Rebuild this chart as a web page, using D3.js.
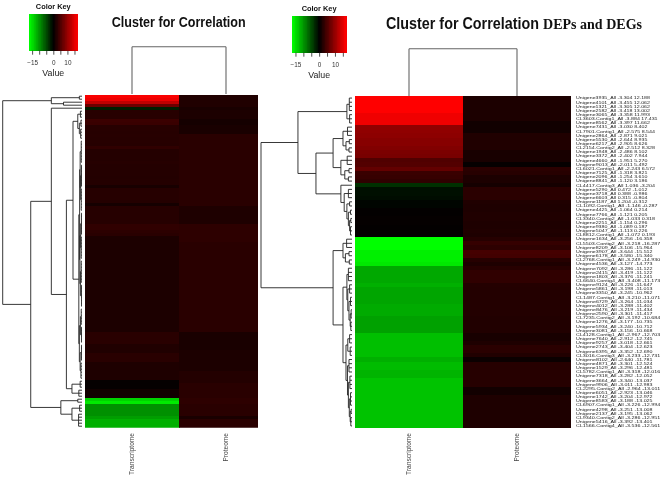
<!DOCTYPE html>
<html>
<head>
<meta charset="utf-8">
<title>Cluster for Correlation</title>
<script src="https://cdn.jsdelivr.net/npm/d3@7"></script>
<style>
  html, body { margin: 0; padding: 0; background: #fff; }
  svg { display: block; filter: blur(0.45px); }
  text { font-family: "Liberation Sans", Arial, sans-serif; }
</style>
</head>
<body>
<svg id="chart" width="660" height="478"></svg>
<script>
const columns = ["Transcriptome", "Proteome"]
const keyTicks = [-15, -10, -5, 0, 5, 10, 15]
const keyLabels = [-15, 0, 10]

// left heatmap, all genes, read top to bottom in bands
const leftTranscriptome = [
  16.6, 15.8, 12.8, 7.2, -2, 2.6, 2.6, 2.6, 3.9, 3.8,
  2.6, 2.6, 2.5, 2.6, 2.5, 2.6, 2.5, 3.2, 2.4, 2.4,
  2.4, 2.4, 2.5, 2.4, 2.4, 2.4, 2.4, 2.3, 2.4, 2.4,
  1.6, 2.5, 2.5, 2.5, 2.5, 2.4, 1.4, 2.5, 2.5, 2.5,
  2.5, 2.5, 2.5, 3.2, 3.2, 2.9, 2.7, 1.9, 1.9, 1.9,
  1.9, 1.9, 1.9, 1.9, 1.9, 1.9, 1.9, 1.9, 1.9, 1.9,
  1.9, 1.9, 1.9, 1.9, 1.9, 1.9, 1.9, 1.9, 1.9, 1.9,
  1.9, 1.9, 1.9, 1.9, 1.9, 1.9, 1.9, 1.9, 1.9, 2.7,
  2.7, 2.7, 2.7, 2.1, 2.1, 2.1, 2.7, 2.7, 2.7, 2,
  2, 2, 2, 2, 2, 0.3, 0.3, 0.3, 1.2, 1.2,
  1.2, -14, -15.6, -9.6, -9.6, -9.6, -9.6, -10.5, -11.7, -11.7,
  -11.7
]
const leftProteome = [
  2.1, 2.1, 2.1, 2.1, 1.7, 1.9, 1.9, 1.9, 1.4, 1.4,
  1.7, 1.7, 1.7, 2.7, 2.7, 2.7, 2.7, 2.7, 2.7, 2.7,
  2.7, 2.7, 2.7, 2.7, 2.7, 2.7, 2.7, 2.7, 2.7, 2.7,
  2.7, 2.7, 2.7, 2.7, 2.7, 2.7, 2.7, 2, 2, 2,
  2, 2, 2, 3, 3, 3, 3, 3, 3, 2.7,
  2.7, 2.7, 2.7, 2.7, 2.7, 2.7, 2.7, 2.7, 2.7, 2.7,
  2.7, 2.7, 2.7, 2.7, 2.7, 2.7, 2.7, 2.7, 2.7, 2.7,
  2.7, 2.7, 2.7, 2.7, 2.7, 2.7, 2.7, 2.7, 2.7, 1.7,
  1.7, 1.7, 1.7, 1.7, 1.7, 1.9, 1.9, 1.9, 1.9, 1.9,
  1.9, 1.9, 2.3, 2.3, 2.3, 2.3, 2.7, 2.7, 2.7, 2.7,
  2.7, 3, 3, 2.7, 2.7, 2.7, 2.7, 1.7, 2.7, 2.7,
  2.7
]

// right heatmap, DEPs and DEGs
const rightTranscriptome = [
  17, 17, 17, 17, 16, 16, 16, 9.6, 9.6, 9.4,
  9, 9, 8.6, 8.2, 8, 5.3, 5.5, 6.6, 3.8, 3.6,
  3.2, -3.2, -1, -1, -0.8, -0.3, -0.3, 0.2, 0.2, 0.3,
  0.3, 0.2, 0.2, 0.2, -17, -17, -17, -16, -16, -16,
  -15.5, -11.2, -11.2, -11.2, -11.2, -11.7, -11, -11, -11, -11,
  -11.4, -11.4, -11.4, -10.7, -10.7, -10.7, -10.7, -12.7, -12.7, -12.7,
  -12.7, -12.7, -12.7, -11.7, -12.5, -12.5, -12, -12, -13, -13,
  -13, -13, -13, -13, -13, -13, -13, -13, -13, -13
]
const rightProteome = [
  1.9, 1.9, 1.9, 1.9, 1.9, 1.9, 1.1, 1.1, 1.1, 2.1,
  2.1, 2.1, 2.1, 1.6, 1.6, 1.6, 0.3, 2.8, 2.6, 1.9,
  1.9, 1.4, 2.8, 2.8, 2.8, 2.1, 2, 2, 2.1, 2.1,
  2, 2, 2.1, 2, 2.5, 3.5, 3, 4.6, 4.4, 2.5,
  2, 2.6, 3.2, 3.2, 3.2, 2.4, 2.3, 2.3, 2.3, 2.3,
  2.3, 2.3, 2.3, 2.2, 2.2, 2.2, 2.2, 1.6, 1.6, 2,
  2.8, 2.8, 2.2, 0.7, 2.5, 2.5, 2.5, 2.5, 2.5, 2.5,
  1.2, 1.2, 2, 2, 2, 2, 2, 2, 2, 2
]

const rowLabels = [
  "Unigene3935_All -3.304 12.188", "Unigene4101_All -3.455 12.062", "Unigene1321_All -3.305 12.062", "Unigene2582_All -3.418 13.002",
  "Unigene3065_All -3.358 11.993", "CL3603.Contig1_All -3.884 17.431", "Unigene8562_All -3.397 11.662", "Unigene7431_All -3.030 8.402",
  "CL7901.Contig1_All -2.575 8.544", "Unigene2864_All -2.871 9.021", "Unigene5530_All -2.644 8.935", "Unigene6217_All -2.905 8.626",
  "CL2154.Contig2_All -2.512 8.328", "Unigene1948_All -2.486 8.102", "Unigene3372_All -2.402 7.944", "Unigene4660_All -1.951 5.270",
  "Unigene9013_All -2.011 5.492", "CL6021.Contig1_All -2.243 6.572", "Unigene7125_All -1.318 3.821", "Unigene2096_All -1.254 3.610",
  "Unigene8841_All -1.120 3.186", "CL4417.Contig3_All 1.036 -3.204", "Unigene5290_All 0.472 -1.012", "Unigene3718_All 0.388 -0.986",
  "Unigene6603_All 0.315 -0.804", "Unigene1187_All 1.204 -0.312", "CL1092.Contig1_All -1.146 -0.287", "Unigene4425_All -1.064 0.214",
  "Unigene7766_All -1.121 0.205", "CL3340.Contig2_All -1.033 0.318", "Unigene2251_All -1.154 0.296", "Unigene9380_All -1.089 0.187",
  "Unigene5047_All -1.113 0.226", "CL8812.Contig1_All -1.072 0.193", "Unigene1634_All -3.256 -16.358", "CL5503.Contig2_All -3.218 -16.287",
  "Unigene8209_All -3.106 -15.964", "Unigene3907_All -3.644 -15.512", "Unigene6178_All -3.580 -15.340", "CL2768.Contig1_All -3.249 -14.930",
  "Unigene4536_All -3.127 -14.773", "Unigene7092_All -3.286 -11.122", "Unigene2415_All -3.419 -11.122", "Unigene1803_All -3.376 -11.241",
  "CL6640.Contig4_All -3.408 -11.173", "Unigene9124_All -3.226 -11.647", "Unigene5861_All -3.198 -11.013", "Unigene3350_All -3.245 -10.962",
  "CL1487.Contig1_All -3.210 -11.071", "Unigene6729_All -3.264 -11.034", "Unigene4012_All -3.288 -11.402", "Unigene8476_All -3.219 -11.434",
  "Unigene2590_All -3.301 -11.417", "CL7235.Contig2_All -3.192 -10.684", "Unigene1276_All -3.177 -10.735", "Unigene5934_All -3.240 -10.712",
  "Unigene3081_All -3.156 -10.668", "CL4128.Contig1_All -2.967 -12.703", "Unigene7640_All -2.912 -12.745", "Unigene9257_All -3.018 -12.661",
  "Unigene2743_All -3.404 -12.623", "Unigene6395_All -3.352 -12.690", "CL3016.Contig3_All -3.233 -12.731", "Unigene8102_All -2.640 -11.781",
  "Unigene4871_All -3.301 -12.524", "Unigene1529_All -3.296 -12.481", "CL5782.Contig1_All -3.318 -12.016", "Unigene7318_All -3.282 -12.052",
  "Unigene3664_All -3.340 -13.037", "Unigene9906_All -3.011 -12.983", "CL2295.Contig2_All -2.964 -13.011", "Unigene6051_All -2.923 -13.046",
  "Unigene1742_All -3.204 -12.972", "Unigene8583_All -3.188 -13.025", "CL6907.Contig1_All -3.226 -12.994", "Unigene4298_All -3.251 -13.008",
  "Unigene2137_All -3.195 -13.062", "CL9340.Contig2_All -3.286 -12.951", "Unigene5416_All -3.392 -13.401", "CL1566.Contig4_All -3.536 -12.561"
]

// dendrograms: [height, child, child, ...], a 0 is one row
const leftTree = [30,
  [11.6, [1, 0, 0], [7, 0, 0]],
  [19.4,
    [11.6, 0,
      [5.9,
        [3.4,
          [1.6, [0.6, 0, 0, 0], [1, [0.4, 0, 0, 0], [0.5, 0, 0, 0, 0]]],
          [1.2,
            [0.9,
              [0.7, [0.3, 0, 0, 0, 0, 0, 0, 0, 0], [0.5, [0.2, 0, 0, 0, 0, 0, 0, 0, 0], [0.3, 0, 0, 0, 0, 0, 0, 0, 0]]],
              [0.8,
                [0.5, [0.2, 0, 0, 0, 0, 0, 0, 0, 0], [0.3, 0, 0, 0, 0, 0, 0, 0, 0]],
                [0.6, [0.3, 0, 0, 0, 0, 0, 0, 0, 0], [0.2, 0, 0, 0, 0, 0, 0, 0, 0]]]],
            [1,
              [0.6, [0.3, 0, 0, 0, 0, 0, 0], [0.2, 0, 0, 0, 0, 0, 0]],
              [0.7, [0.2, 0, 0, 0, 0, 0, 0], [0.4, 0, 0, 0, 0, 0, 0]]]]],
        [3.8, [0.7, 0, 0, 0], [1.2, 0, 0, 0]]]],
    [8, [1.6, 0, 0], [3.8, [0.9, 0, 0, 0], [1.3, 0, 0, 0, 0, 0]]]]
]
const rightTree = [30.3,
  [18,
    [1.7, [0.9, 0, 0, 0, 0], [0.8, 0, 0, 0]],
    [12,
      [6.3,
        [3, [1.5, 0, 0, 0], [2, [0.9, 0, 0], [1, 0, 0]]],
        [3.7, [1.6, 0, 0, 0], [2.4, [1, 0, 0], [1.2, 0, 0]]]],
      [3.7, 0,
        [2.6, [1.2, 0, 0, 0], [1.7, [0.8, 0, 0], [1.2, [0.5, 0, 0], [0.8, [0.4, 0, 0], [0.5, 0, 0, 0]]]]]]]],
  [6.3,
    [3, [1.8, 0, 0, 0], [2.2, [1, 0, 0], [0.9, 0, 0]]],
    [3,
      [1.7, [1.2, 0, 0, 0, 0], [1.4, [0.8, 0, 0, 0], [1, [0.5, 0, 0, 0], [0.6, [0.3, 0, 0, 0], [0.4, 0, 0, 0]]]]],
      [2,
        [1.4, [0.8, 0, 0, 0], [0.6, 0, 0, 0]],
        [1.5, [1, 0, 0, 0, 0], [1.2, [0.7, 0, 0, 0, 0], [0.9, [0.5, 0, 0, 0, 0], [0.6, [0.3, 0, 0], [0.4, 0, 0, 0]]]]]]]]
]
const columnTree = [1, 0, 0]

const svg = d3.select("#chart")
const color = d3.scaleLinear()
  .domain([-17, 0, 17])
  .range(["#00ff00", "#000000", "#ff0000"])
  .clamp(true)

// draws a dendrogram, leafPos gives a row or column centre, heightPos a node height
function drawTree(tree, leafPos, heightPos, horizontal, stroke, width) {
  const root = d3.hierarchy(tree, (d) => (Array.isArray(d) ? d.slice(1) : null))
  let n = 0
  root.eachAfter((d) => {
    if (!d.children) {
      d.p = leafPos(n++)
    } else {
      d.p = (d.children[0].p + d.children[d.children.length - 1].p) / 2
    }
    d.h = d.children ? d.data[0] : 0
  })
  const xy = horizontal
    ? (h, p) => [heightPos(h), p]
    : (h, p) => [p, heightPos(h)]

  const line = d3.line()
  svg.append("g")
    .attr("fill", "none")
    .attr("stroke", stroke)
    .attr("stroke-width", width)
    .selectAll("path")
    .data(root.descendants().filter((d) => d.children))
    .enter()
    .append("path")
    .attr("d", (d) => {
      const first = d.children[0]
      const last = d.children[d.children.length - 1]
      return d.children
        .map((c) => line([xy(c.h, c.p), xy(d.h, c.p)]))
        .join("") + line([xy(d.h, first.p), xy(d.h, last.p)])
    })
}

function drawHeatmap(id, transcriptome, proteome, x, y, clipRight) {
  const rows = d3.range(transcriptome.length)
  const values = [transcriptome, proteome]
  svg.append("clipPath")
    .attr("id", id)
    .append("rect")
    .attr("x", x.range()[0])
    .attr("y", y.range()[0])
    .attr("width", clipRight - x.range()[0])
    .attr("height", y.range()[1] - y.range()[0])

  const g = svg.append("g")
    .attr("clip-path", `url(#${id})`)
    .attr("shape-rendering", "crispEdges")
  columns.forEach((col, c) => {
    g.selectAll(null)
      .data(rows)
      .enter()
      .append("rect")
      .attr("x", x(col))
      .attr("y", (i) => y(i))
      .attr("width", x.bandwidth() + 0.5)
      .attr("height", y.bandwidth() + 0.5)
      .attr("fill", (i) => color(values[c][i]))
  })

  svg.append("g")
    .selectAll("text")
    .data(columns)
    .enter()
    .append("text")
    .attr("transform", (d) => `translate(${x(d) + x.bandwidth() / 2 + 2.2},433) rotate(-90)`)
    .attr("text-anchor", "end")
    .attr("font-size", 6.6)
    .attr("fill", "#444")
    .text((d) => d)
}

function drawKey(x0, x1, y0, y1) {
  const cx = (x0 + x1) / 2
  const x = d3.scaleLinear().domain([-17, 17]).range([x0, x1])
  const steps = d3.range(-17, 17, 0.5)
  svg.append("g")
    .attr("shape-rendering", "crispEdges")
    .selectAll("rect")
    .data(steps)
    .enter()
    .append("rect")
    .attr("x", (d) => x(d))
    .attr("y", y0)
    .attr("width", (x1 - x0) / steps.length + 1)
    .attr("height", y1 - y0)
    .attr("fill", (d) => color(d + 0.25))

  const axis = d3.axisBottom(x)
    .tickValues(keyTicks)
    .tickSize(4)
    .tickPadding(6)
    .tickFormat((d) => (keyLabels.includes(d) ? String(d).replace("-", "\u2212") : ""))
  const a = svg.append("g").attr("transform", `translate(0,${y1})`).call(axis)
  a.select(".domain").remove()
  a.selectAll("line").attr("stroke", "#222").attr("stroke-width", 0.8)
  a.selectAll("text")
    .attr("font-family", "Liberation Sans, Arial, sans-serif")
    .attr("font-size", 6.4)
    .attr("fill", "#333")

  svg.append("text")
    .attr("x", cx).attr("y", y0 - 5.5)
    .attr("text-anchor", "middle")
    .attr("font-size", 7.4).attr("font-weight", "bold").attr("fill", "#111")
    .text("Color Key")
  svg.append("text")
    .attr("x", cx).attr("y", y1 + 25.5)
    .attr("text-anchor", "middle")
    .attr("font-size", 8.8).attr("fill", "#222")
    .text("Value")
}

// left panel, its second column runs under the right panel
const xLeft = d3.scaleBand().domain(columns).range([85, 273])
const yLeft = d3.scaleBand().domain(d3.range(leftTranscriptome.length)).range([94.7, 427.7])
drawHeatmap("clipLeft", leftTranscriptome, leftProteome, xLeft, yLeft, 258)
drawTree(leftTree, (i) => yLeft(i) + yLeft.bandwidth() / 2,
  d3.scaleLinear().domain([0, 30]).range([82, 2.7]), true, "#222", 0.9)
drawTree(columnTree, (i) => xLeft(columns[i]) + xLeft.bandwidth() / 2,
  d3.scaleLinear().domain([0, 1]).range([94, 46.7]), false, "#666", 1.1)
drawKey(29.3, 77.3, 14, 50.7)

// right panel
const xRight = d3.scaleBand().domain(columns).range([355, 571])
const yRight = d3.scaleBand().domain(d3.range(rightTranscriptome.length)).range([96, 428])
drawHeatmap("clipRight", rightTranscriptome, rightProteome, xRight, yRight, 571)
drawTree(rightTree, (i) => yRight(i) + yRight.bandwidth() / 2,
  d3.scaleLinear().domain([0, 30.3]).range([352, 261]), true, "#222", 0.9)
drawTree(columnTree, (i) => xRight(columns[i]) + xRight.bandwidth() / 2,
  d3.scaleLinear().domain([0, 1]).range([96, 48.7]), false, "#666", 1.1)
drawKey(292.3, 346, 16, 52.7)

// row labels are set small and stretched so they sit in their own row
svg.append("g")
  .selectAll("text")
  .data(rowLabels)
  .enter()
  .append("text")
  .attr("x", 576)
  .attr("y", (d, i) => yRight(i) + yRight.bandwidth() / 2 + 1.3)
  .attr("font-size", 3.5)
  .attr("fill", "#222")
  .attr("textLength", (d) => d.length * 2.55)
  .attr("lengthAdjust", "spacingAndGlyphs")
  .text((d) => d)

svg.append("text")
  .attr("x", 111.7).attr("y", 26.5)
  .attr("font-size", 15.5).attr("font-weight", "bold").attr("fill", "#111")
  .attr("textLength", 134).attr("lengthAdjust", "spacingAndGlyphs")
  .text("Cluster for Correlation")
// squeezed with a transform, the title stops short of the serif part
svg.append("text")
  .attr("transform", "translate(386,29) scale(0.896,1)")
  .attr("font-size", 16).attr("font-weight", "bold").attr("fill", "#111")
  .text("Cluster for Correlation")
svg.append("text")
  .attr("x", 543).attr("y", 29)
  .attr("font-size", 14).attr("font-weight", "bold").attr("fill", "#111")
  .style("font-family", "'Liberation Serif', 'Times New Roman', serif")
  .attr("textLength", 99).attr("lengthAdjust", "spacingAndGlyphs")
  .text("DEPs and DEGs")
</script>
</body>
</html>
